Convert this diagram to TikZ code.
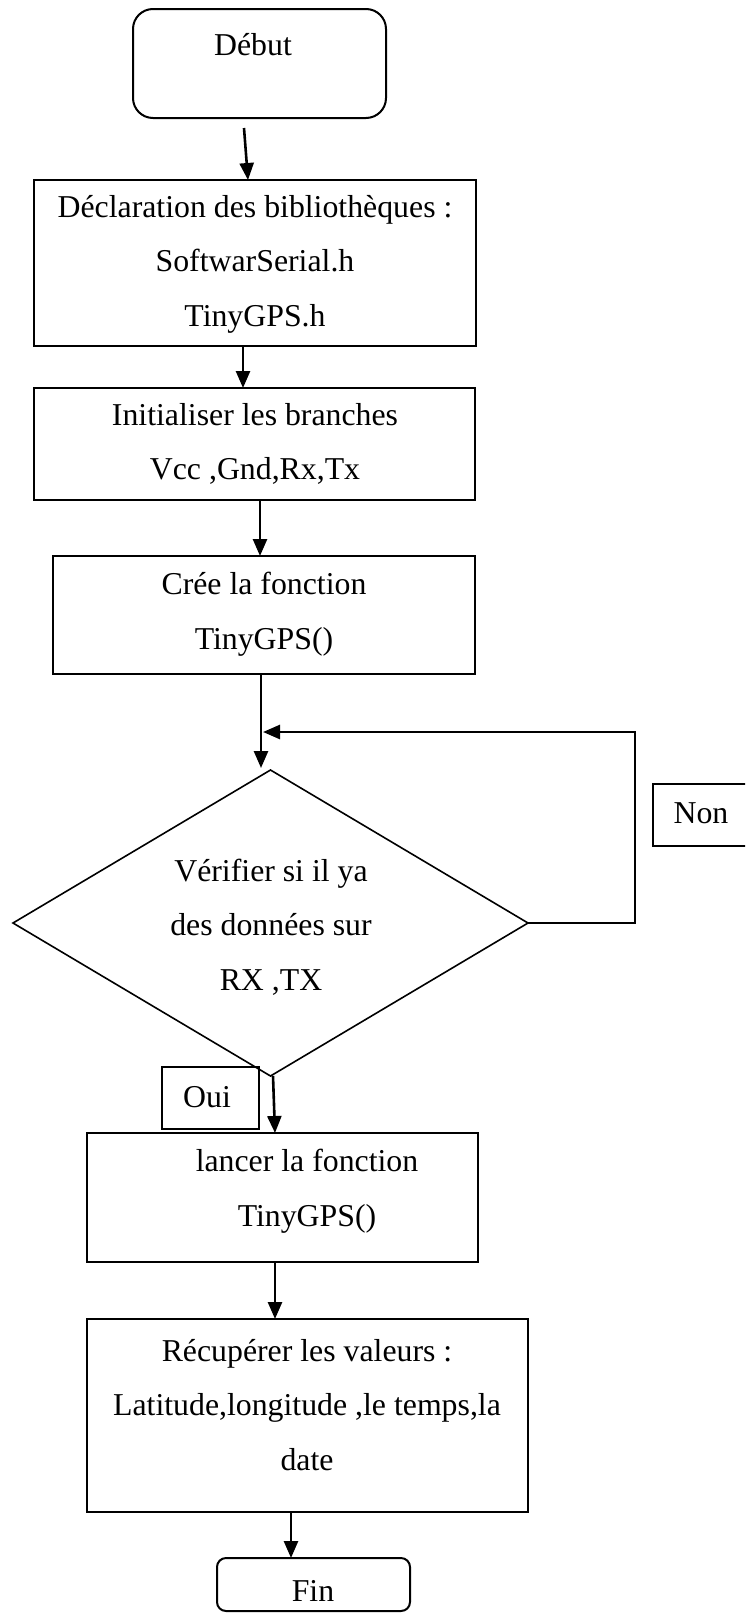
\documentclass[tikz,border=0pt]{standalone}
\usepackage{fontspec}
\setmainfont{Liberation Serif}
\usetikzlibrary{arrows.meta,shapes.geometric,calc}

\tikzset{
  txt/.style={font=\fontsize{31.8}{54.5}\selectfont, align=center, inner sep=0pt},
  procbox/.style={draw, line width=1.8pt, inner sep=0pt, outer sep=0pt},
  termbox/.style={procbox, line width=2pt},
  decbox/.style={draw, shape=diamond, line width=1.6pt, inner sep=0pt, outer sep=0pt},
  arr/.style={line width=2.6pt, -{Triangle[length=17pt,width=14pt]}},
  thinline/.style={line width=1.4pt},
}

\begin{document}
\begin{tikzpicture}[x=1pt, y=-1pt]
  \useasboundingbox (0,0) rectangle (745,1614);
  \clip (0,0) rectangle (745,1614);

  % boxes of the flowchart
  \node[termbox, rounded corners=20pt, minimum width=253pt, minimum height=109pt] (debut) at (259.5,63.5) {};
  \node[procbox, minimum width=442pt, minimum height=166pt] (decl) at (255,263) {};
  \node[procbox, minimum width=441pt, minimum height=112pt] (init) at (254.5,444) {};
  \node[procbox, minimum width=422pt, minimum height=118pt] (cree) at (264,615) {};
  \node[decbox, minimum width=515pt, minimum height=306pt] (dia) at (270.5,923) {};
  \node[procbox, minimum width=115pt, minimum height=62pt] (non) at (710.5,815) {};
  \node[procbox, minimum width=97pt, minimum height=62pt] (oui) at (210.5,1098) {};
  \node[procbox, minimum width=391pt, minimum height=129pt] (lancer) at (282.5,1197.5) {};
  \node[procbox, minimum width=441pt, minimum height=193pt] (recup) at (307.5,1415.5) {};
  \node[termbox, rounded corners=9pt, minimum width=193pt, minimum height=53pt] (fin) at (313.5,1584.5) {};

  % texts
  \node[txt] (tdebut) at (253,45) {Début};
  \node[txt] (tdecl) at (255,264) {Déclaration des bibliothèques :\\SoftwarSerial.h\\TinyGPS.h};
  \node[txt] (tinit) at (255,444) {Initialiser les branches\\Vcc ,Gnd,Rx,Tx};
  \node[txt] (tcree) at (264,614) {Crée la fonction\\TinyGPS()};
  \node[txt] (tdia) at (271,927) {Vérifier si il ya\\des données sur\\RX ,TX};
  \node[txt] (tnon) at (701,813) {Non};
  \node[txt] (toui) at (207,1097) {Oui};
  \node[txt] (tlancer) at (307,1191) {lancer la fonction\\TinyGPS()};
  \node[txt] (trecup) at (307,1405) {Récupérer les valeurs :\\Latitude,longitude ,le temps,la\\date};
  \node[txt] (tfin) at (313,1591) {Fin};

  % connectors
  \draw[arr] ($(debut.south)+(-15.5,10)$) -- ($(decl.north)+(-7,0)$);
  \draw[arr] ($(decl.south)+(-12,0)$) -- ($(init.north)+(-11.5,0)$);
  \draw[arr] ($(init.south)+(5.5,0)$) -- ($(cree.north)+(-4,0)$);
  \draw[arr] ($(cree.south)+(-3,0)$) -- ($(dia.north)+(-9.5,-2)$);
  % "Non" branch back to the test
  \coordinate (loopjoin) at ($(cree.south)+(48,58)$);
  \draw[thinline] (dia.east) -- ++(107,0) |- (loopjoin);
  \draw[arr] (loopjoin) -- ($(cree.south)+(-1,58)$);
  \draw[arr] ($(dia.south)+(2.5,0)$) -- ($(lancer.north)+(-7.5,0)$);
  \draw[arr] ($(lancer.south)+(-7.5,0)$) -- ($(recup.north)+(-32.5,0)$);
  \draw[arr] ($(recup.south)+(-16.5,0)$) -- ($(fin.north)+(-22.5,0)$);
\end{tikzpicture}
\end{document}
